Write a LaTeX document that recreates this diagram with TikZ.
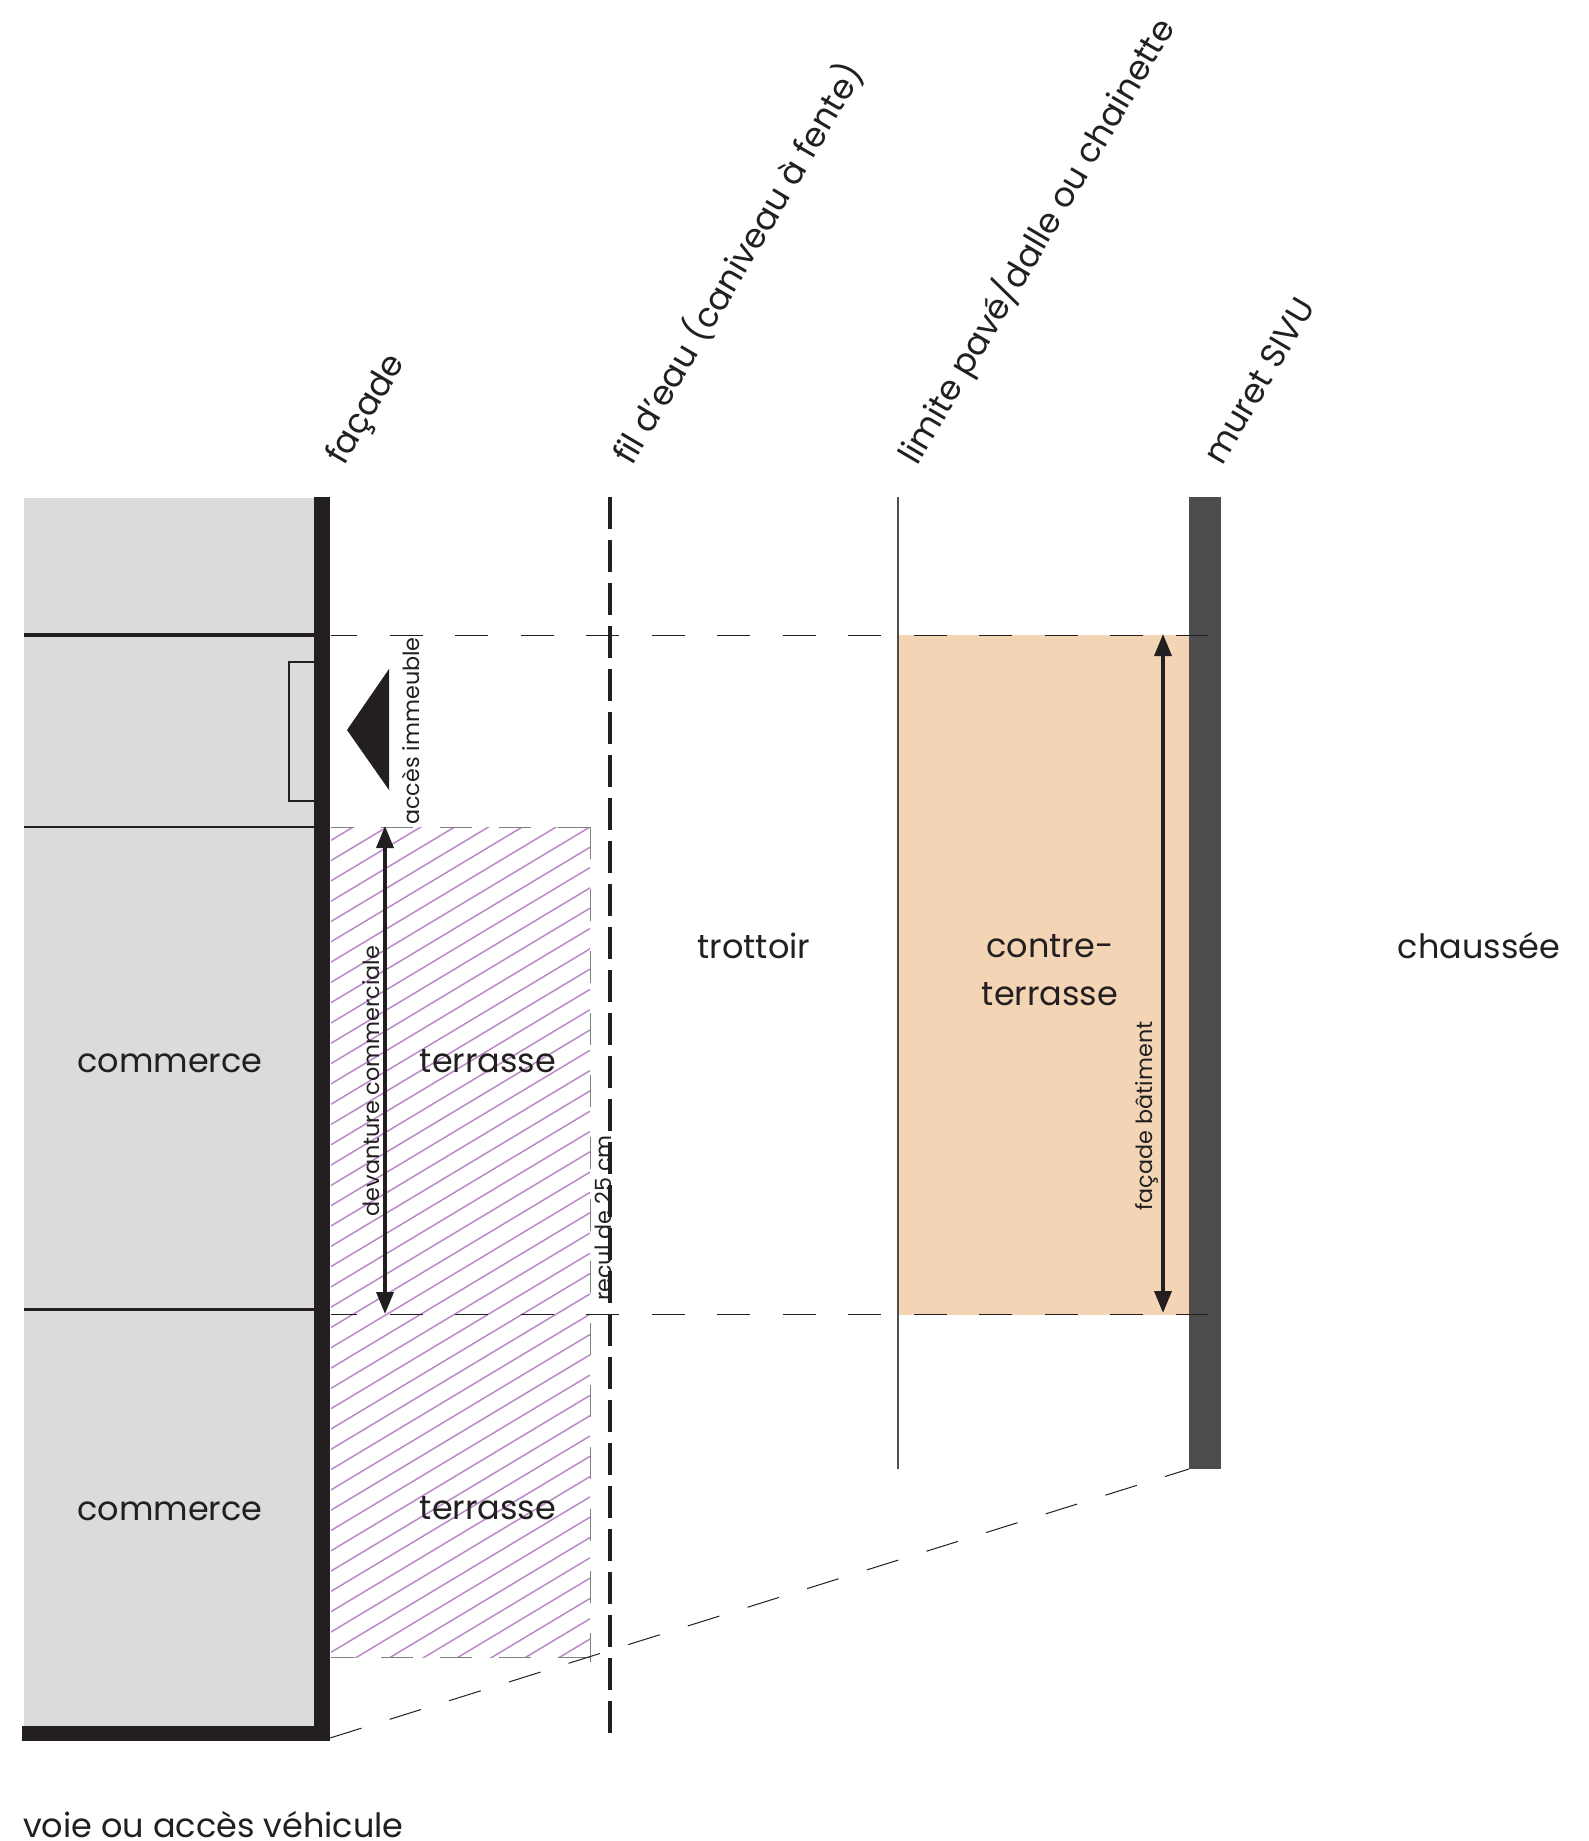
\documentclass[tikz,border=0pt]{standalone}
\usepackage{fontspec}
\setmainfont{Poppins}
\usetikzlibrary{arrows.meta}
\definecolor{ink}{HTML}{231F20}
\definecolor{shop}{HTML}{DBDBDB}
\definecolor{wallgrey}{HTML}{4D4D4D}
\definecolor{contre}{HTML}{F3D5B5}
\definecolor{hatchline}{HTML}{B98AC6}
\tikzset{
  big/.style={text=ink,font=\fontsize{33.5}{48}\selectfont,align=center,inner sep=0pt},
  slanted/.style={text=ink,font=\fontsize{33.8}{40}\selectfont,rotate=59.5,anchor=base west,inner sep=0pt},
  small/.style={text=ink,font=\fontsize{22.3}{26}\selectfont,rotate=90,inner sep=0pt},
  thindash/.style={draw=ink,line width=.9pt,dash pattern=on 33pt off 32.5pt},
  hatchdash/.style={draw=black!50,line width=1pt},
  measure/.style={draw=ink,line width=3.5pt,{Triangle[length=22pt,width=17pt]}-{Triangle[length=22pt,width=17pt]},shorten <=-1pt,shorten >=-1pt}
}
\begin{document}
\begin{tikzpicture}[x=1pt,y=-1pt]
  \useasboundingbox (0,0) rectangle (1589,1841);
  % fonds
  \fill[shop] (23.5,498) rectangle (314,1726);
  \fill[contre] (899,635) rectangle (1189,1315);
  % hachures
  \begin{scope}
    \clip (331,827) rectangle (590,1657);
    \foreach \k in {-8,...,41}
      \draw[hatchline,line width=1.5pt] (590,827+20.3*\k) -- (330,827+20.3*\k+156);
  \end{scope}
  \draw[hatchdash,dash pattern=on 32pt off 27pt] (590,827) -- (331,827);
  \draw[hatchdash,dash pattern=on 32pt off 27pt] (590,1657) -- (331,1657);
  \draw[hatchdash,dash pattern=on 32pt off 30pt] (590,827) -- (590,1662);
  % cloisons
  \draw[ink,line width=3.2pt] (23.5,635) -- (314,635);
  \draw[ink,line width=2.2pt] (23.5,827) -- (314,827);
  \draw[ink,line width=3.2pt] (23.5,1309.5) -- (314,1309.5);
  \draw[ink,line width=1.3pt] (314,662) -- (289,662) -- (289,801) -- (314,801);
  % lignes
  \fill[ink] (314,497) rectangle (330,1741);
  \fill[ink] (22,1726) rectangle (330,1741);
  \fill[wallgrey] (1189,497) rectangle (1221,1469);
  \draw[wallgrey,line width=2pt] (898,497) -- (898,1469);
  \draw[ink,line width=4pt,dash pattern=on 32pt off 11pt] (609.5,497) -- (609.5,1733);
  \fill[ink] (347,730) -- (389,669) -- (389,790) -- cycle;
  % tirets
  \draw[thindash,dash phase=7pt] (331,635) -- (1208,635);
  \draw[thindash,dash phase=7pt] (331,1314) -- (1208,1314);
  \draw[draw=ink,line width=1pt,dash pattern=on 33pt off 29.5pt] (330,1738) -- (1189,1469);
  % cotes
  \coordinate (devhaut) at (385,827);
  \coordinate (devbas) at (385,1313);
  \coordinate (bathaut) at (1163,635);
  \coordinate (batbas) at (1163,1312);
  \draw[measure] (devhaut) -- (devbas);
  \draw[measure] (bathaut) -- (batbas);
  % textes
  \node[big] (com1) at (170,1063) {commerce};
  \node[big] (com2) at (170,1511) {commerce};
  \node[big] (ter1) at (488,1061) {terrasse};
  \node[big] (ter2) at (488,1508) {terrasse};
  \node[big] (trot) at (754,946) {trottoir};
  \node[big] (chau) at (1479,946) {chaussée};
  \node[big] (ctr) at (1050,970) {contre-\\terrasse};
  \node[big,anchor=base west] (voie) at (23,1837) {voie ou accès véhicule};
  \node[slanted] (fac) at (344,467) {façade};
  \node[slanted] (fil) at (632,467) {fil d'eau (caniveau à fente)};
  \node[slanted] (lim) at (917,467) {limite pavé/dalle ou chainette};
  \node[slanted] (mur) at (1222,467) {muret SIVU};
  \node[small] (acc) at (411,731) {accès immeuble};
  \node[small] (dev) at (371,1081) {devanture commerciale};
  \node[small] (rec) at (603,1218) {recul de 25 cm};
  \node[small] (bat) at (1147,1116) {façade bâtiment};
\end{tikzpicture}
\end{document}
